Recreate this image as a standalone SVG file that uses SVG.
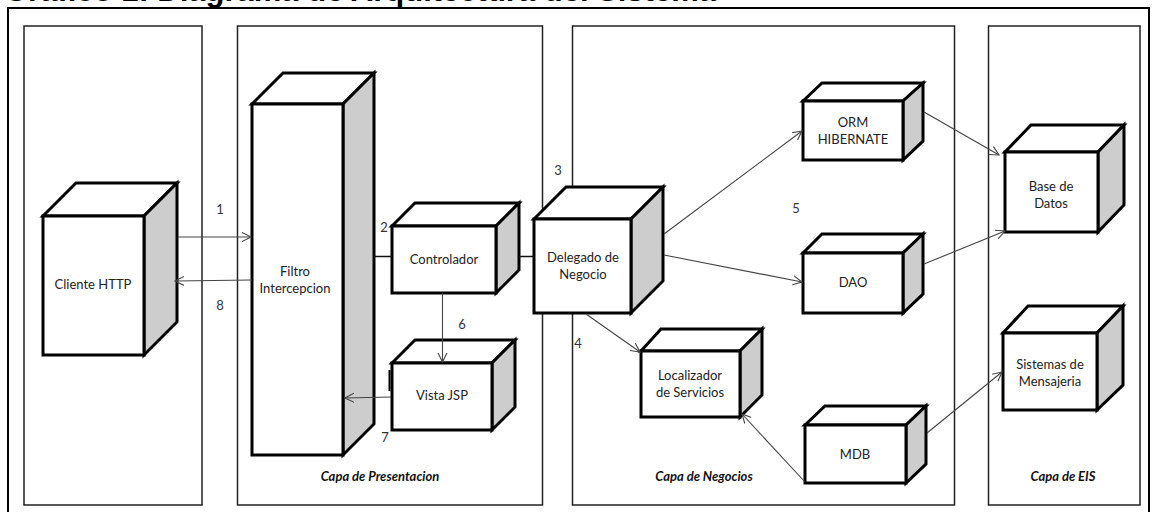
<svg xmlns="http://www.w3.org/2000/svg" width="1155" height="512" viewBox="0 0 1155 512">
<defs>
<style>
.title{font-family:"Liberation Sans",Arial,sans-serif;font-weight:bold;font-size:31px;fill:#000}
.panel{fill:none;stroke:#222;stroke-width:1.5}
.cube *{stroke:#000;stroke-width:3;stroke-linejoin:miter}
.front,.top{fill:#fff}
.side{fill:#cdcdcd}
.lbl{font-family:Lato,"Open Sans",sans-serif;font-size:13px;fill:#222;text-anchor:middle;stroke:none}
.num{font-family:Lato,"Open Sans",sans-serif;font-size:13px;fill:#333;text-anchor:middle}
.layer{font-family:Lato,"Open Sans",sans-serif;font-size:13px;font-weight:bold;font-style:italic;fill:#111;text-anchor:middle}
.conn{stroke:#444;stroke-width:1.1;fill:none}
.link{stroke:#111;stroke-width:1.5;fill:none}
</style>
<marker id="arr" markerUnits="userSpaceOnUse" markerWidth="12" markerHeight="12" refX="9" refY="5" orient="auto">
<path d="M0,0.5 L9,5 L0,9.5" fill="none" stroke="#444" stroke-width="1.1"/>
</marker>
</defs>
<rect width="1155" height="512" fill="#fff"/>
<text class="title" x="4" y="1">Gráfico 1: Diagrama de Arquitectura del Sistema</text>
<rect x="8" y="8" width="1141" height="512" fill="none" stroke="#000" stroke-width="2"/>
<g id="panels">
<rect class="panel" x="24" y="26" width="178" height="479"/>
<rect class="panel" x="237.5" y="26" width="305" height="479"/>
<rect class="panel" x="572.5" y="26" width="382" height="479"/>
<rect class="panel" x="988.5" y="26" width="151.5" height="479"/>
<text class="layer" x="380" y="481">Capa de Presentacion</text>
<text class="layer" x="704" y="481">Capa de Negocios</text>
<text class="layer" x="1063" y="481">Capa de EIS</text>
</g>
<g id="cliente" class="cube">
<polygon class="top" points="43,216 76,183 177,183 144,216"/>
<polygon class="side" points="144,216 177,183 177,322 144,355"/>
<rect class="front" x="43" y="216" width="101" height="139"/>
<text class="lbl" x="93" y="289">Cliente HTTP</text>
</g>
<g id="filtro" class="cube">
<polygon class="top" points="252,104 283,73 374,73 343,104"/>
<polygon class="side" points="343,104 374,73 374,424 343,455"/>
<rect class="front" x="252" y="104" width="91" height="351"/>
<text class="lbl" x="295" y="276">Filtro</text>
<text class="lbl" x="295" y="293">Intercepcion</text>
</g>
<g id="controlador" class="cube">
<polygon class="top" points="392,226 415,203 519,203 496,226"/>
<polygon class="side" points="496,226 519,203 519,270 496,293"/>
<rect class="front" x="392" y="226" width="104" height="67"/>
<text class="lbl" x="444" y="264">Controlador</text>
</g>
<g id="vista" class="cube">
<polygon class="top" points="392,363 415,340 515,340 492,363"/>
<polygon class="side" points="492,363 515,340 515,407 492,430"/>
<rect class="front" x="392" y="363" width="100" height="67"/>
<rect x="388.5" y="370" width="2" height="21" fill="#000" style="stroke:none"/>
<text class="lbl" x="442" y="400">Vista JSP</text>
</g>
<g id="delegado" class="cube">
<polygon class="top" points="534,219 566,187 663,187 631,219"/>
<polygon class="side" points="631,219 663,187 663,281 631,313"/>
<rect class="front" x="534" y="219" width="97" height="94"/>
<text class="lbl" x="583" y="262">Delegado de</text>
<text class="lbl" x="583" y="279">Negocio</text>
</g>
<g id="orm" class="cube">
<polygon class="top" points="803,101 822,83 923,83 903,101"/>
<polygon class="side" points="903,101 923,83 923,141 903,160"/>
<rect class="front" x="803" y="101" width="100" height="59"/>
<text class="lbl" x="853" y="127">ORM</text>
<text class="lbl" x="853" y="144">HIBERNATE</text>
</g>
<g id="dao" class="cube">
<polygon class="top" points="803,253 822,234 923,234 903,253"/>
<polygon class="side" points="903,253 923,234 923,294 903,313"/>
<rect class="front" x="803" y="253" width="100" height="60"/>
<text class="lbl" x="853" y="287">DAO</text>
</g>
<g id="localizador" class="cube">
<polygon class="top" points="641,351 661,329 762,329 740,351"/>
<polygon class="side" points="740,351 762,329 762,395 740,417"/>
<rect class="front" x="641" y="351" width="99" height="66"/>
<text class="lbl" x="690" y="380">Localizador</text>
<text class="lbl" x="690" y="397">de Servicios</text>
</g>
<g id="mdb" class="cube">
<polygon class="top" points="805,425 825,406 926,406 906,425"/>
<polygon class="side" points="906,425 926,406 926,464 906,483"/>
<rect class="front" x="805" y="425" width="101" height="58"/>
<text class="lbl" x="855" y="459">MDB</text>
</g>
<g id="basedatos" class="cube">
<polygon class="top" points="1005,152 1031,125 1124,125 1098,152"/>
<polygon class="side" points="1098,152 1124,125 1124,205 1098,232"/>
<rect class="front" x="1005" y="152" width="93" height="80"/>
<text class="lbl" x="1051" y="191">Base de</text>
<text class="lbl" x="1051" y="208">Datos</text>
</g>
<g id="mensajeria" class="cube">
<polygon class="top" points="1003,333 1028,306 1123,306 1097,333"/>
<polygon class="side" points="1097,333 1123,306 1123,385 1097,410"/>
<rect class="front" x="1003" y="333" width="94" height="77"/>
<text class="lbl" x="1050" y="369">Sistemas de</text>
<text class="lbl" x="1050" y="386">Mensajeria</text>
</g>
<g id="connectors">
<line class="conn" x1="178" y1="237" x2="251" y2="237" marker-end="url(#arr)"/>
<line class="conn" x1="252" y1="280" x2="175" y2="281" marker-end="url(#arr)"/>
<line class="link" x1="374" y1="256.5" x2="392" y2="256.5"/>
<line class="link" x1="519" y1="256.5" x2="534" y2="256.5"/>
<line class="conn" x1="442.5" y1="293" x2="442.5" y2="362" marker-end="url(#arr)"/>
<line class="conn" x1="391" y1="397" x2="345" y2="398" marker-end="url(#arr)"/>
<line class="conn" x1="664" y1="234" x2="802" y2="131" marker-end="url(#arr)"/>
<line class="conn" x1="664" y1="255" x2="802" y2="282" marker-end="url(#arr)"/>
<line class="conn" x1="586" y1="314" x2="640" y2="352" marker-end="url(#arr)"/>
<line class="conn" x1="924" y1="112" x2="999" y2="155" marker-end="url(#arr)"/>
<line class="conn" x1="924" y1="264" x2="1005" y2="231" marker-end="url(#arr)"/>
<line class="conn" x1="927" y1="433" x2="1002" y2="372" marker-end="url(#arr)"/>
<line class="conn" x1="805" y1="482" x2="742" y2="414" marker-end="url(#arr)"/>
<text class="num" x="220" y="214">1</text>
<text class="num" x="384" y="232">2</text>
<text class="num" x="558" y="175">3</text>
<text class="num" x="578" y="348">4</text>
<text class="num" x="796" y="213">5</text>
<text class="num" x="462" y="329">6</text>
<text class="num" x="385" y="442">7</text>
<text class="num" x="220" y="310">8</text>
</g>
</svg>
